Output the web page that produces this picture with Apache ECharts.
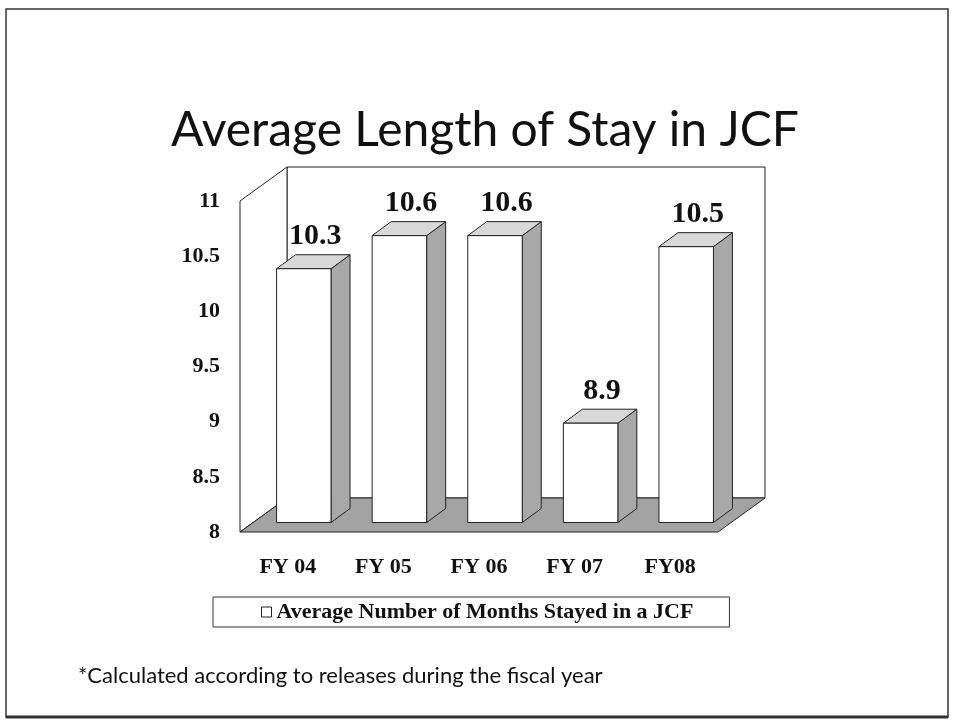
<!DOCTYPE html>
<html lang="en">
<head>
<meta charset="UTF-8">
<script src="https://cdn.jsdelivr.net/npm/echarts@6/dist/echarts.min.js"></script>
<title>Average Length of Stay in JCF</title>
<style>html,body{margin:0;padding:0;background:#fff;}</style>
</head>
<body>
<div id="main" style="width:953px;height:721px;"></div>
<script type="text/javascript">
var categories = ['FY 04', 'FY 05', 'FY 06', 'FY 07', 'FY08'];
var months = [10.3, 10.6, 10.6, 8.9, 10.5];
var yTicks = [8, 8.5, 9, 9.5, 10, 10.5, 11];
var seriesName = 'Average Number of Months Stayed in a JCF';

var chart = echarts.init(document.getElementById('main'));

// pseudo 3d: depth of the box and of the bars, in pixels
var DEPTH = [47, -34];
var BAR_FRONT = [16, -9.5];
var BAR_DEPTH = [19, -14];
var serif = '"Liberation Serif", "Times New Roman", serif';
var sans = 'Lato, "Open Sans", sans-serif';
var ink = '#222';

function renderWalls(params, api) {
    var cs = params.coordSys;
    var x0 = cs.x, x1 = cs.x + cs.width, yT = cs.y, yB = cs.y + cs.height;
    var dx = DEPTH[0], dy = DEPTH[1];
    var line = { stroke: ink, lineWidth: 1 };
    return {
        type: 'group',
        children: [
            { type: 'polygon', shape: { points: [[x0 + dx, yT + dy], [x1 + dx, yT + dy], [x1 + dx, yB + dy], [x0 + dx, yB + dy]] },
              style: Object.assign({ fill: '#fff' }, line) },
            { type: 'polygon', shape: { points: [[x0, yB], [x0, yT], [x0 + dx, yT + dy], [x0 + dx, yB + dy]] },
              style: Object.assign({ fill: '#fff' }, line) },
            { type: 'polygon', shape: { points: [[x0, yB], [x1, yB], [x1 + dx, yB + dy], [x0 + dx, yB + dy]] },
              style: Object.assign({ fill: '#a3a3a3' }, line) }
        ]
    };
}

function renderBar(params, api) {
    var val = api.value(1);
    var top = api.coord([api.value(0), val]);
    var base = api.coord([api.value(0), yTicks[0]]);
    var w = api.size([1, 0])[0] * 0.57;
    var xl = top[0] + BAR_FRONT[0] - w / 2, xr = xl + w;
    var yt = top[1] + BAR_FRONT[1], yb = base[1] + BAR_FRONT[1];
    var sx = BAR_DEPTH[0], sy = BAR_DEPTH[1];
    var line = { stroke: ink, lineWidth: 1 };
    return {
        type: 'group',
        children: [
            { type: 'polygon', shape: { points: [[xr, yt], [xr + sx, yt + sy], [xr + sx, yb + sy], [xr, yb]] },
              style: Object.assign({ fill: '#a8a8a8' }, line) },
            { type: 'polygon', shape: { points: [[xl, yt], [xl + sx, yt + sy], [xr + sx, yt + sy], [xr, yt]] },
              style: Object.assign({ fill: '#d8d8d8' }, line) },
            { type: 'rect', shape: { x: xl, y: yt, width: w, height: yb - yt },
              style: Object.assign({ fill: '#fff' }, line) },
            { type: 'text', style: {
                text: val.toFixed(1), x: xl + w / 2 + sx / 2 + 2, y: yt + sy - 18,
                font: 'bold 30px ' + serif, fill: '#111',
                align: 'center', verticalAlign: 'middle', textAlign: 'center', textVerticalAlign: 'middle' } }
        ]
    };
}

var option = {
    backgroundColor: '#fff',
    animation: false,
    grid: { left: 240, top: 201, width: 478, height: 331 },
    xAxis: {
        type: 'category',
        data: categories,
        axisLine: { show: false },
        axisTick: { show: false },
        axisLabel: { margin: 24, fontFamily: serif, fontWeight: 'bold', fontSize: 22, color: '#111' }
    },
    yAxis: {
        type: 'value',
        min: yTicks[0],
        max: yTicks[yTicks.length - 1],
        interval: 0.5,
        axisLine: { show: false },
        axisTick: { show: false },
        splitLine: { show: false },
        axisLabel: { margin: 20, fontFamily: serif, fontWeight: 'bold', fontSize: 22, color: '#111' }
    },
    legend: {
        data: [{ name: seriesName, icon: 'rect', itemStyle: { color: '#fff', borderColor: ink, borderWidth: 1 } }],
        left: 213,
        top: 597,
        padding: [4, 36, 4, 48],
        itemWidth: 10,
        itemHeight: 10,
        borderColor: '#333',
        borderWidth: 1,
        selectedMode: false,
        textStyle: { fontFamily: serif, fontWeight: 'bold', fontSize: 22, color: '#111' }
    },
    graphic: [
        { type: 'rect', shape: { x: 6, y: 9, width: 942, height: 708 }, style: { fill: 'none', stroke: '#333', lineWidth: 1.5 } },
        { type: 'line', shape: { x1: 6, y1: 717, x2: 948, y2: 717 }, style: { stroke: '#333', lineWidth: 3 } },
        { type: 'text', style: { text: 'Average Length of Stay in JCF', x: 485, y: 131, font: '48px ' + sans, fill: '#111',
            align: 'center', verticalAlign: 'middle', textAlign: 'center', textVerticalAlign: 'middle' } },
        { type: 'text', style: { text: '*Calculated according to releases during the fiscal year', x: 78, y: 676, font: '22px ' + sans, fill: '#111',
            align: 'left', verticalAlign: 'middle', textAlign: 'left', textVerticalAlign: 'middle' } }
    ],
    series: [
        {
            name: 'walls',
            type: 'custom',
            silent: true,
            renderItem: renderWalls,
            data: [[0, yTicks[0]]],
            z: 1
        },
        {
            name: seriesName,
            type: 'custom',
            renderItem: renderBar,
            itemStyle: { color: '#fff', borderColor: ink },
            encode: { x: 0, y: 1 },
            data: months.map(function (v, i) { return [i, v]; }),
            z: 2
        }
    ]
};

chart.setOption(option);
</script>
</body>
</html>
